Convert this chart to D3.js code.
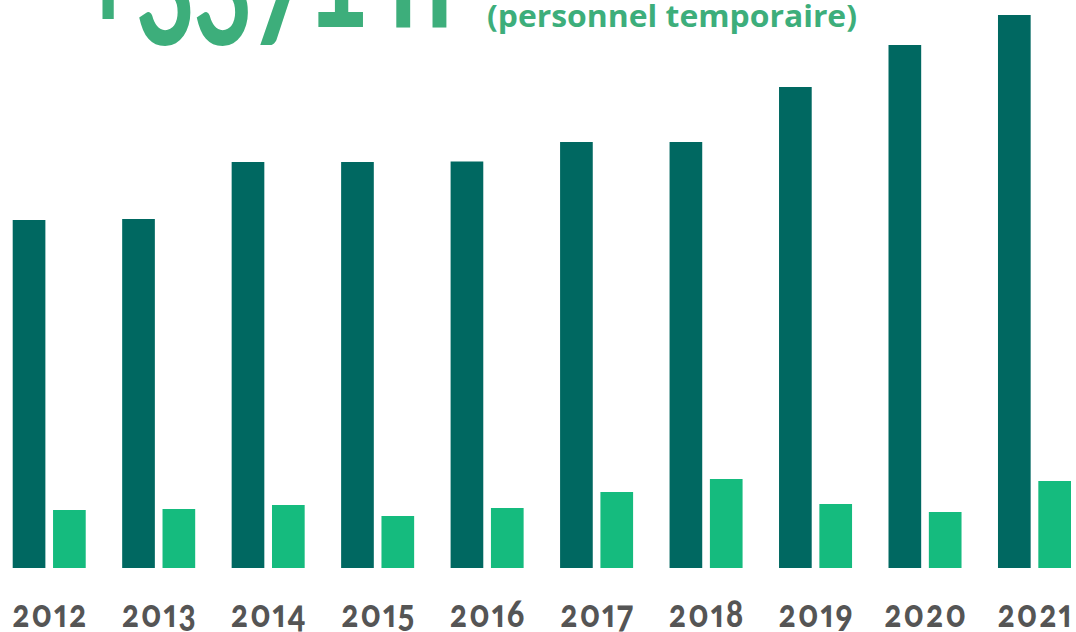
<!DOCTYPE html>
<html>
<head>
<meta charset="utf-8">
<script src="https://cdn.jsdelivr.net/npm/d3@7"></script>
<style>
  body { margin: 0; background: #fff; }
  svg { display: block; }
  .onum { font-feature-settings: "onum" 1, "pnum" 1; font-variant-numeric: oldstyle-nums proportional-nums; }
  .title { font-feature-settings: "onum" 1; font-variant-numeric: oldstyle-nums; }
</style>
</head>
<body>
<svg id="chart"></svg>
<script>
// years and estimated values (arbitrary height units)
const years = ['2012', '2013', '2014', '2015', '2016', '2017', '2018', '2019', '2020', '2021'];
const permanent = [348, 349, 406, 406, 406.5, 426, 426, 481, 523, 553];
const temporary = [58, 59, 63, 52, 60, 76, 89, 64, 56, 87];
const series = ['permanent', 'temporary'];
const seriesColors = ['#006861', '#15bb7e'];

const width = 1076, height = 632;
const baseline = 568;

const svg = d3.select('#chart')
    .attr('width', width)
    .attr('height', height);

// group scale (one band per year)
const x = d3.scaleBand()
    .domain(years)
    .range([12.7, 1071])
    .paddingInner(0.333)
    .paddingOuter(0);

// sub band inside a year: dark bar then light bar
const xSub = d3.scaleBand()
    .domain(series)
    .range([0, x.bandwidth()])
    .paddingInner(0.19);

const y = d3.scaleLinear()
    .domain([0, 553])
    .range([baseline, baseline - 553]);

const color = d3.scaleOrdinal().domain(series).range(seriesColors);

const rows = years.map((yr, i) => ({ year: yr, permanent: permanent[i], temporary: temporary[i] }));

const groups = svg.append('g')
    .selectAll('g')
    .data(rows)
    .join('g')
    .attr('transform', d => `translate(${x(d.year)},0)`);

groups.selectAll('rect')
    .data(d => series.map(k => ({ key: k, value: d[k] })))
    .join('rect')
    .attr('x', d => xSub(d.key))
    .attr('y', d => y(d.value))
    .attr('width', xSub.bandwidth())
    .attr('height', d => y(0) - y(d.value))
    .attr('fill', d => color(d.key));

// year labels (old style figures, a bit taller than Lato's)
svg.append('g')
    .selectAll('text')
    .data(years)
    .join('text')
    .attr('class', 'onum')
    .attr('transform', d => `translate(${x(d) + x.bandwidth() / 2 + 1},627) scale(1,1.2)`)
    .attr('text-anchor', 'middle')
    .attr('font-family', 'Lato')
    .attr('font-weight', 900)
    .attr('font-size', 32)
    .attr('letter-spacing', 2)
    .attr('fill', '#555555')
    .text(d => d);

// title, cut off at the top of the frame
svg.append('text')
    .attr('class', 'title')
    .attr('transform', 'translate(78,27) scale(1,1.5)')
    .attr('font-family', 'Lato')
    .attr('font-weight', 700)
    .attr('font-size', 112)
    .attr('letter-spacing', -3)
    .attr('fill', '#3dae7b')
    .text('+3371 h');

svg.append('text')
    .attr('x', 487)
    .attr('y', 27)
    .attr('font-family', 'Open Sans')
    .attr('font-weight', 700)
    .attr('font-size', 31)
    .attr('textLength', 370)
    .attr('lengthAdjust', 'spacingAndGlyphs')
    .attr('fill', '#3dae7b')
    .text('(personnel temporaire)');
</script>
</body>
</html>
